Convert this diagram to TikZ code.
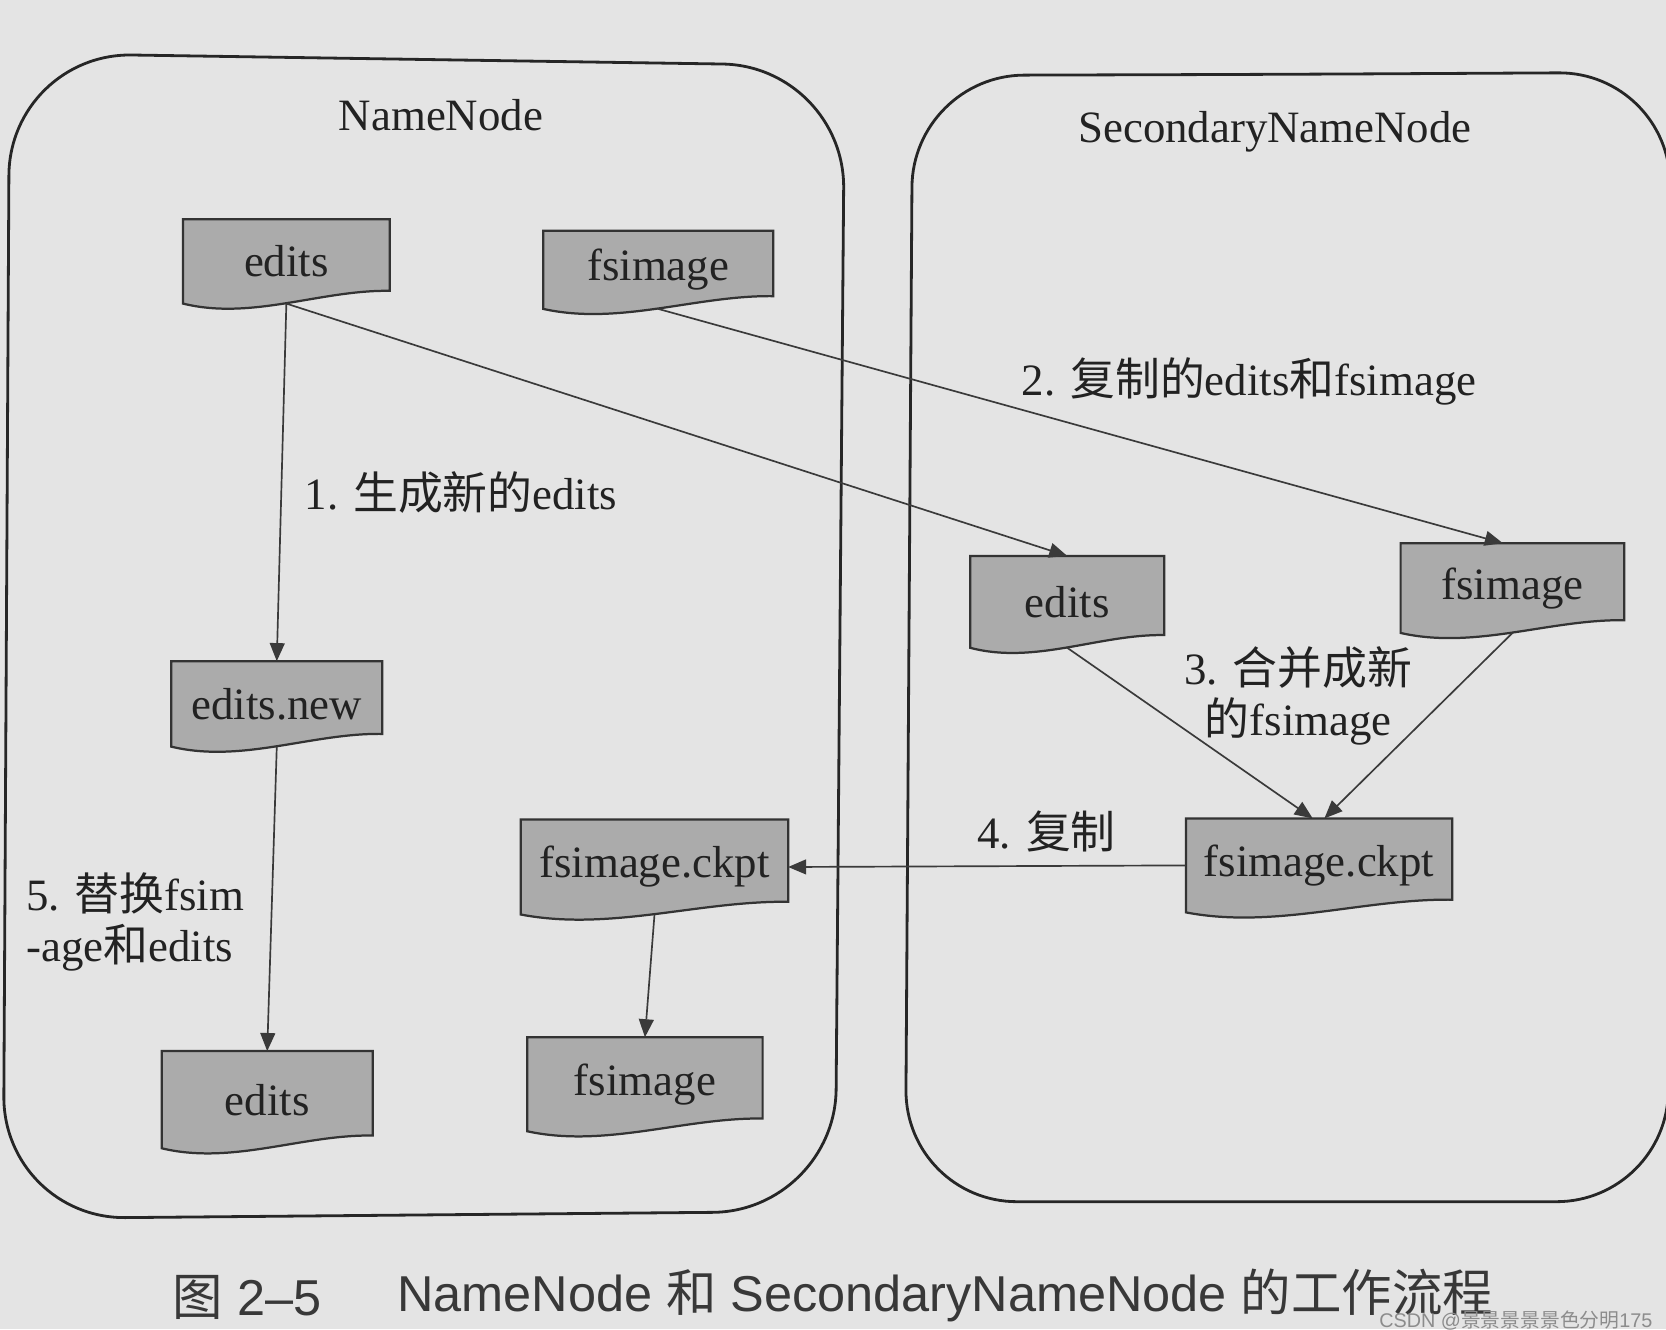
\documentclass[tikz,border=0pt]{standalone}
\usepackage{fontspec}
\setmainfont{Liberation Serif}
\newfontfamily\cjk{Noto Sans CJK SC}
\newfontfamily\capsans{Liberation Sans}
\usetikzlibrary{arrows.meta,calc}
\pgfdeclarelayer{background}
\pgfsetlayers{background,main}
\definecolor{paper}{HTML}{E4E4E4}
\definecolor{docgray}{HTML}{ABABAB}
\definecolor{ink}{HTML}{222222}
\definecolor{lineink}{HTML}{3A3A3A}
\definecolor{wmark}{HTML}{8C8C8C}

\tikzset{
  docnode/.style={rectangle, inner sep=0pt, text=ink, font=\fontsize{12}{14}\selectfont},
  docshape/.style={fill=docgray, draw=black!80, line width=0.6pt},
  frame/.style={draw=black!85, line width=0.75pt},
  conn/.style={draw=lineink, line width=0.45pt, -{Triangle[length=1.7mm,width=1.4mm]}},
  lbl/.style={text=ink, font=\fontsize{12}{13.7}\selectfont, inner sep=0pt},
  ttl/.style={text=ink, font=\fontsize{12}{14}\selectfont, inner sep=0pt},
  capt/.style={text=ink!90, font=\capsans\fontsize{13.5}{15}\selectfont, inner sep=0pt},
}

% name, centre, width, height (top to lower-left corner), text
\newcommand\docbox[5]{%
  \node[docnode, minimum width=#3, minimum height=#4] (#1) at (#2) {#5};
  \begin{pgfonlayer}{background}
    \filldraw[docshape] (#1.south west) -- (#1.north west) -- (#1.north east)
      -- ($(#1.south east)+(0,-12)$)
      .. controls ($(#1.south west)!0.6667!(#1.south east)+(0,-13)$)
         and ($(#1.south west)!0.3333!(#1.south east)+(0,16)$) .. (#1.south west) -- cycle;
  \end{pgfonlayer}
}

\begin{document}
\begin{tikzpicture}[x=0.01cm,y=-0.01cm]
\useasboundingbox (0,0) rectangle (1568,1251);
\begin{pgfonlayer}{background}
  \fill[paper] (0,0) rectangle (1568,1251);
\end{pgfonlayer}

% frames
\draw[frame, rounded corners=1.15cm] (400,56) -- (795,62) -- (786,1140) -- (3,1147) -- (9,50) -- cycle;
\draw[frame, rounded corners=1.05cm] (1200,70) -- (1572,68) -- (1570,1131) -- (852,1131) -- (859,71) -- cycle;

% titles
\node[ttl] (nnt) at (415,108) {NameNode};
\node[ttl] (snt) at (1200,124) {SecondaryNameNode};

% documents
\docbox{e1}{269.5,246}{1.93cm}{0.78cm}{edits}
\docbox{f1}{619.5,254}{2.15cm}{0.72cm}{fsimage}
\docbox{en}{260.5,662.5}{1.97cm}{0.79cm}{edits.new}
\docbox{e3}{251.5,1035}{1.97cm}{0.90cm}{edits}
\docbox{c1}{616,816}{2.50cm}{0.88cm}{fsimage.ckpt}
\docbox{f3}{607,1020.5}{2.20cm}{0.87cm}{fsimage}
\docbox{e2}{1004.5,566.5}{1.81cm}{0.85cm}{edits}
\docbox{f2}{1423.5,553.5}{2.09cm}{0.83cm}{fsimage}
\docbox{c2}{1241.5,814.5}{2.49cm}{0.87cm}{fsimage.ckpt}

% connectors
\draw[conn] (e1.south) -- (en.north);
\draw[conn] (e1.south) -- (e2.north);
\draw[conn] (f1.south) -- ($(f2.north)+(-9,0)$);
\draw[conn] (e2.south) -- ($(c2.north)+(-6,0)$);
\draw[conn] (f2.south) -- ($(c2.north)+(5,0)$);
\draw[conn] (c2.west) -- (c1.east);
\draw[conn] (en.south) -- (e3.north);
\draw[conn] (c1.south) -- (f3.north);

% labels
\node[lbl, anchor=west] (l1) at (286,464) {1. {\cjk 生成新的}edits};
\node[lbl, anchor=west] (l2) at (961,359) {2. {\cjk 复制的}edits{\cjk 和}fsimage};
\node[lbl, align=center] (l3) at (1222,655) {3. {\cjk 合并成新}\\{\cjk 的}fsimage};
\node[lbl] (l4) at (985,783) {4. {\cjk 复制}};
\node[lbl, align=left, anchor=west] (l5) at (24,868) {5. {\cjk 替换}fsim\\-age{\cjk 和}edits};

% caption
\node[capt, anchor=west] (cap1) at (162,1221) {{\cjk 图} 2–5};
\node[capt, anchor=west] (cap2) at (373,1219) {NameNode {\cjk 和} SecondaryNameNode {\cjk 的工作流程}};

% watermark
\node[anchor=east, inner sep=0pt, text=wmark, font=\capsans\fontsize{5.3}{6}\selectfont] (wm) at (1556,1243) {CSDN @{\cjk 景景景景景色分明}175};
\end{tikzpicture}
\end{document}
